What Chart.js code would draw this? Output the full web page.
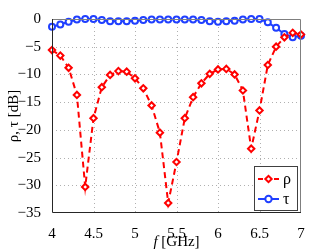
<!DOCTYPE html>
<html>
<head>
<meta charset="utf-8">
<script src="https://cdn.jsdelivr.net/npm/chart.js@4"></script>
<style>
  html, body { margin: 0; padding: 0; background: #fff; }
  #wrap { width: 332px; height: 250px; }
</style>
</head>
<body>
<div id="wrap"><canvas id="chart" width="332" height="250"></canvas></div>
<script>
// Frequencies (GHz)
let freq = [4.0, 4.1, 4.2, 4.3, 4.4, 4.5, 4.6, 4.7, 4.8, 4.9, 5.0,
            5.1, 5.2, 5.3, 5.4, 5.5, 5.6, 5.7, 5.8, 5.9, 6.0,
            6.1, 6.2, 6.3, 6.4, 6.5, 6.6, 6.7, 6.8, 6.9, 7.0];
// Reflection rho [dB]
let rho = [-5.6, -6.6, -8.8, -13.7, -30.3, -17.9, -12.3, -10.1, -9.4, -9.5, -10.7,
           -12.5, -15.6, -20.5, -33.2, -25.8, -17.9, -14.1, -11.6, -9.9, -9.1,
           -9.0, -10.0, -12.9, -23.4, -16.5, -8.3, -5.0, -3.3, -2.5, -2.8];
// Transmission tau [dB]
let tau = [-1.4, -1.0, -0.5, -0.1, 0.0, 0.0, -0.2, -0.4, -0.4, -0.4, -0.3,
           -0.2, -0.1, -0.1, -0.1, -0.1, -0.1, -0.1, -0.2, -0.4, -0.5,
           -0.4, -0.3, -0.1, 0.0, 0.0, -0.6, -1.6, -2.7, -3.3, -3.0];
let xTicks = [4, 4.5, 5, 5.5, 6, 6.5, 7];
let yTicks = [0, -5, -10, -15, -20, -25, -30, -35];

const serif = '"Liberation Serif", "DejaVu Serif", serif';

function pts(arr) {
    return freq.map((f, i) => ({ x: f, y: arr[i] }));
}

// dotted grid drawn under the data
const dottedGrid = {
    id: 'dottedGrid',
    beforeDatasetsDraw(chart) {
        const ctx = chart.ctx;
        const a = chart.chartArea;
        const xs = chart.scales.x, ys = chart.scales.y;
        ctx.save();
        ctx.strokeStyle = '#b0b0b0';
        ctx.lineWidth = 1;
        ctx.setLineDash([1, 3]);
        xTicks.slice(1, -1).forEach(v => {
            const px = Math.round(xs.getPixelForValue(v)) + 0.5;
            ctx.beginPath();
            ctx.moveTo(px, a.top);
            ctx.lineTo(px, a.bottom);
            ctx.stroke();
        });
        yTicks.slice(1, -1).forEach(v => {
            const py = Math.round(ys.getPixelForValue(v)) + 0.5;
            ctx.beginPath();
            ctx.moveTo(a.left, py);
            ctx.lineTo(a.right, py);
            ctx.stroke();
        });
        ctx.restore();
    }
};

// Frame, axis titles and legend
const decorations = {
    id: 'decorations',
    afterDatasetsDraw(chart) {
        const ctx = chart.ctx;
        const a = chart.chartArea;
        ctx.save();
        // grey top/right frame
        ctx.strokeStyle = '#7f7f7f';
        ctx.lineWidth = 1;
        ctx.beginPath();
        ctx.moveTo(a.left, a.top + 0.5);
        ctx.lineTo(a.right - 0.5, a.top + 0.5);
        ctx.lineTo(a.right - 0.5, a.bottom);
        ctx.stroke();
        // black left/bottom axes
        ctx.strokeStyle = '#262626';
        ctx.beginPath();
        ctx.moveTo(a.left + 0.5, a.top);
        ctx.lineTo(a.left + 0.5, a.bottom - 0.5);
        ctx.lineTo(a.right, a.bottom - 0.5);
        ctx.stroke();

        // x title
        ctx.fillStyle = '#000';
        ctx.textBaseline = 'alphabetic';
        ctx.font = 'italic 15px ' + serif;
        const fw = ctx.measureText('f').width;
        ctx.font = '15px ' + serif;
        const rest = ' [GHz]';
        const rw = ctx.measureText(rest).width;
        let x0 = (a.left + a.right) / 2 - (fw + rw) / 2;
        ctx.font = 'italic 15px ' + serif;
        ctx.textAlign = 'left';
        ctx.fillText('f', x0, 246);
        ctx.font = '15px ' + serif;
        ctx.fillText(rest, x0 + fw, 246);

        // y title
        ctx.save();
        ctx.translate(18, (a.top + a.bottom) / 2);
        ctx.rotate(-Math.PI / 2);
        ctx.textAlign = 'center';
        ctx.font = '15px ' + serif;
        ctx.fillText('ρ, τ [dB]', 0, 0);
        ctx.restore();

        // legend
        const lx = 254, ly = 166, lw = 43, lh = 44;
        ctx.fillStyle = '#fff';
        ctx.fillRect(lx, ly, lw, lh);
        ctx.strokeStyle = '#404040';
        ctx.lineWidth = 1;
        ctx.strokeRect(lx + 0.5, ly + 0.5, lw, lh);
        const rows = [
            { label: 'ρ', color: '#ff0000', dash: [5, 3], style: 'rectRot', y: ly + 13 },
            { label: 'τ', color: '#1f3fff', dash: [], style: 'circle', y: ly + 33 }
        ];
        rows.forEach(r => {
            ctx.strokeStyle = r.color;
            ctx.lineWidth = 2;
            ctx.setLineDash(r.dash);
            ctx.beginPath();
            ctx.moveTo(lx + 4, r.y);
            ctx.lineTo(lx + 25, r.y);
            ctx.stroke();
            ctx.setLineDash([]);
            ctx.fillStyle = '#fff';
            Chart.helpers.drawPoint(ctx, { pointStyle: r.style, radius: 3.2, borderWidth: 2 }, lx + 14.5, r.y);
            ctx.fillStyle = '#000';
            ctx.font = '16px ' + serif;
            ctx.textAlign = 'left';
            ctx.textBaseline = 'middle';
            ctx.fillText(r.label, lx + 29, r.y + 1);
        });
        ctx.restore();
    }
};

new Chart(document.getElementById('chart').getContext('2d'), {
    type: 'line',
    data: {
        datasets: [{
            label: 'ρ',
            data: pts(rho),
            borderColor: '#ff0000',
            borderWidth: 2,
            borderDash: [6, 4],
            pointStyle: 'rectRot',
            pointRadius: 3.2,
            pointBorderWidth: 2,
            pointBorderColor: '#ff0000',
            pointBackgroundColor: '#fff',
            clip: false
        }, {
            label: 'τ',
            data: pts(tau),
            borderColor: '#1f3fff',
            borderWidth: 2,
            pointStyle: 'circle',
            pointRadius: 3,
            pointBorderWidth: 2,
            pointBorderColor: '#1f3fff',
            pointBackgroundColor: '#fff',
            clip: false
        }]
    },
    options: {
        responsive: false,
        animation: false,
        layout: { padding: { left: 0, top: 19, right: 31, bottom: 0 } },
        plugins: { legend: { display: false }, tooltip: { enabled: false } },
        scales: {
            x: {
                type: 'linear',
                min: 4, max: 7,
                afterFit(s) { s.height = 37; },
                afterBuildTicks(s) { s.ticks = xTicks.map(v => ({ value: v })); },
                grid: { display: false },
                border: { display: false },
                ticks: {
                    color: '#000', padding: 4,
                    font: { family: serif, size: 15 },
                    maxRotation: 0,
                    callback: v => String(v)
                }
            },
            y: {
                min: -35, max: 0,
                afterFit(s) { s.width = 52; },
                afterBuildTicks(s) { s.ticks = yTicks.map(v => ({ value: v })); },
                grid: { display: false },
                border: { display: false },
                ticks: {
                    color: '#000', padding: 3,
                    font: { family: serif, size: 15 },
                    callback: v => (v < 0 ? '\u2212' + Math.abs(v) : String(v))
                }
            }
        }
    },
    plugins: [dottedGrid, decorations]
});
</script>
</body>
</html>
